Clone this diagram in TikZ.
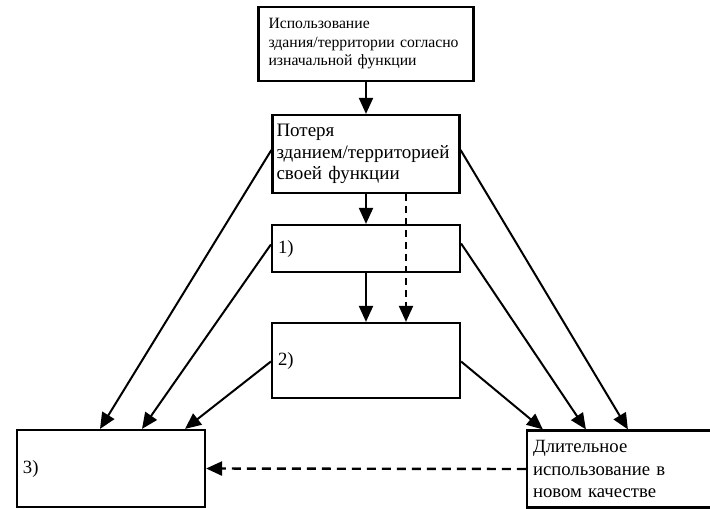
\documentclass[tikz,border=0pt]{standalone}
\usepackage{fontspec}
\setmainfont{Liberation Serif}
\usetikzlibrary{arrows.meta,calc}
\begin{document}
\begin{tikzpicture}[x=1pt,y=-1pt,
  box/.style={draw,line width=2.2pt,rectangle,inner xsep=4pt,inner ysep=0pt,align=left,anchor=center},
  arr/.style={line width=2pt,-{Triangle[length=16pt,width=14pt]}},
  darr/.style={arr,dash pattern=on 7pt off 5pt},
  hdarr/.style={line width=2.4pt,dash pattern=on 9pt off 6pt,-{Triangle[length=16pt,width=14pt]}},
  bigtxt/.style={font=\fontsize{18.7}{22}\selectfont}]
\useasboundingbox (0,0) rectangle (710,509);
\fill[white] (0,0) rectangle (710,509);
\node[box,minimum width=215pt,minimum height=74pt,text width=195pt,inner xsep=10pt,font=\fontsize{15.7}{18.5}\selectfont] (A) at (366,44) {Использование\\здания/территории согласно\\изначальной функции};
\node[box,minimum width=187pt,minimum height=78pt,text width=179pt,font=\fontsize{19}{21.5}\selectfont] (B) at (366,154) {Потеря\\зданием/территорией\\своей функции};
\node[box,bigtxt,minimum width=188pt,minimum height=47pt,text width=176pt,inner xsep=6pt] (s1) at (366,248.5) {1)};
\node[box,bigtxt,minimum width=188pt,minimum height=75pt,text width=176pt,inner xsep=6pt] (s2) at (366,360.5) {2)};
\node[box,bigtxt,minimum width=188pt,minimum height=77pt,text width=176pt,inner xsep=6pt] (s3) at (111,468.5) {3)};
\node[box,minimum width=192pt,minimum height=77pt,text width=182pt,inner xsep=6pt,font=\fontsize{18.7}{22.5}\selectfont] (D) at (624,469) {Длительное\\использование в\\новом качестве};
% vertical arrows
\draw[arr] (A.south) -- (B.north);
\draw[arr] (B.south) -- (s1.north);
\draw[arr] (s1.south) -- (s2.north);
\draw[darr] ($(B.south)+(40,0)$) -- ($(s2.north)+(40,0)$);
% left arrows
\draw[arr] ($(B.west)+(0,-4)$) -- ($(s3.north)+(-11,0)$);
\draw[arr] ($(s1.west)+(0,-4)$) -- ($(s3.north)+(31,0)$);
\draw[arr] ($(s2.west)+(0,1)$) -- ($(s3.north)+(74,0)$);
% right arrows
\draw[arr] ($(B.east)+(0,-4)$) -- ($(D.north west)+(102,0)$);
\draw[arr] ($(s1.east)+(0,-5)$) -- ($(D.north west)+(60,0)$);
\draw[arr] ($(s2.east)+(0,1)$) -- ($(D.north west)+(17,0)$);
% dashed horizontal
\draw[hdarr] (D.west) -- (s3.east);
\end{tikzpicture}
\end{document}
